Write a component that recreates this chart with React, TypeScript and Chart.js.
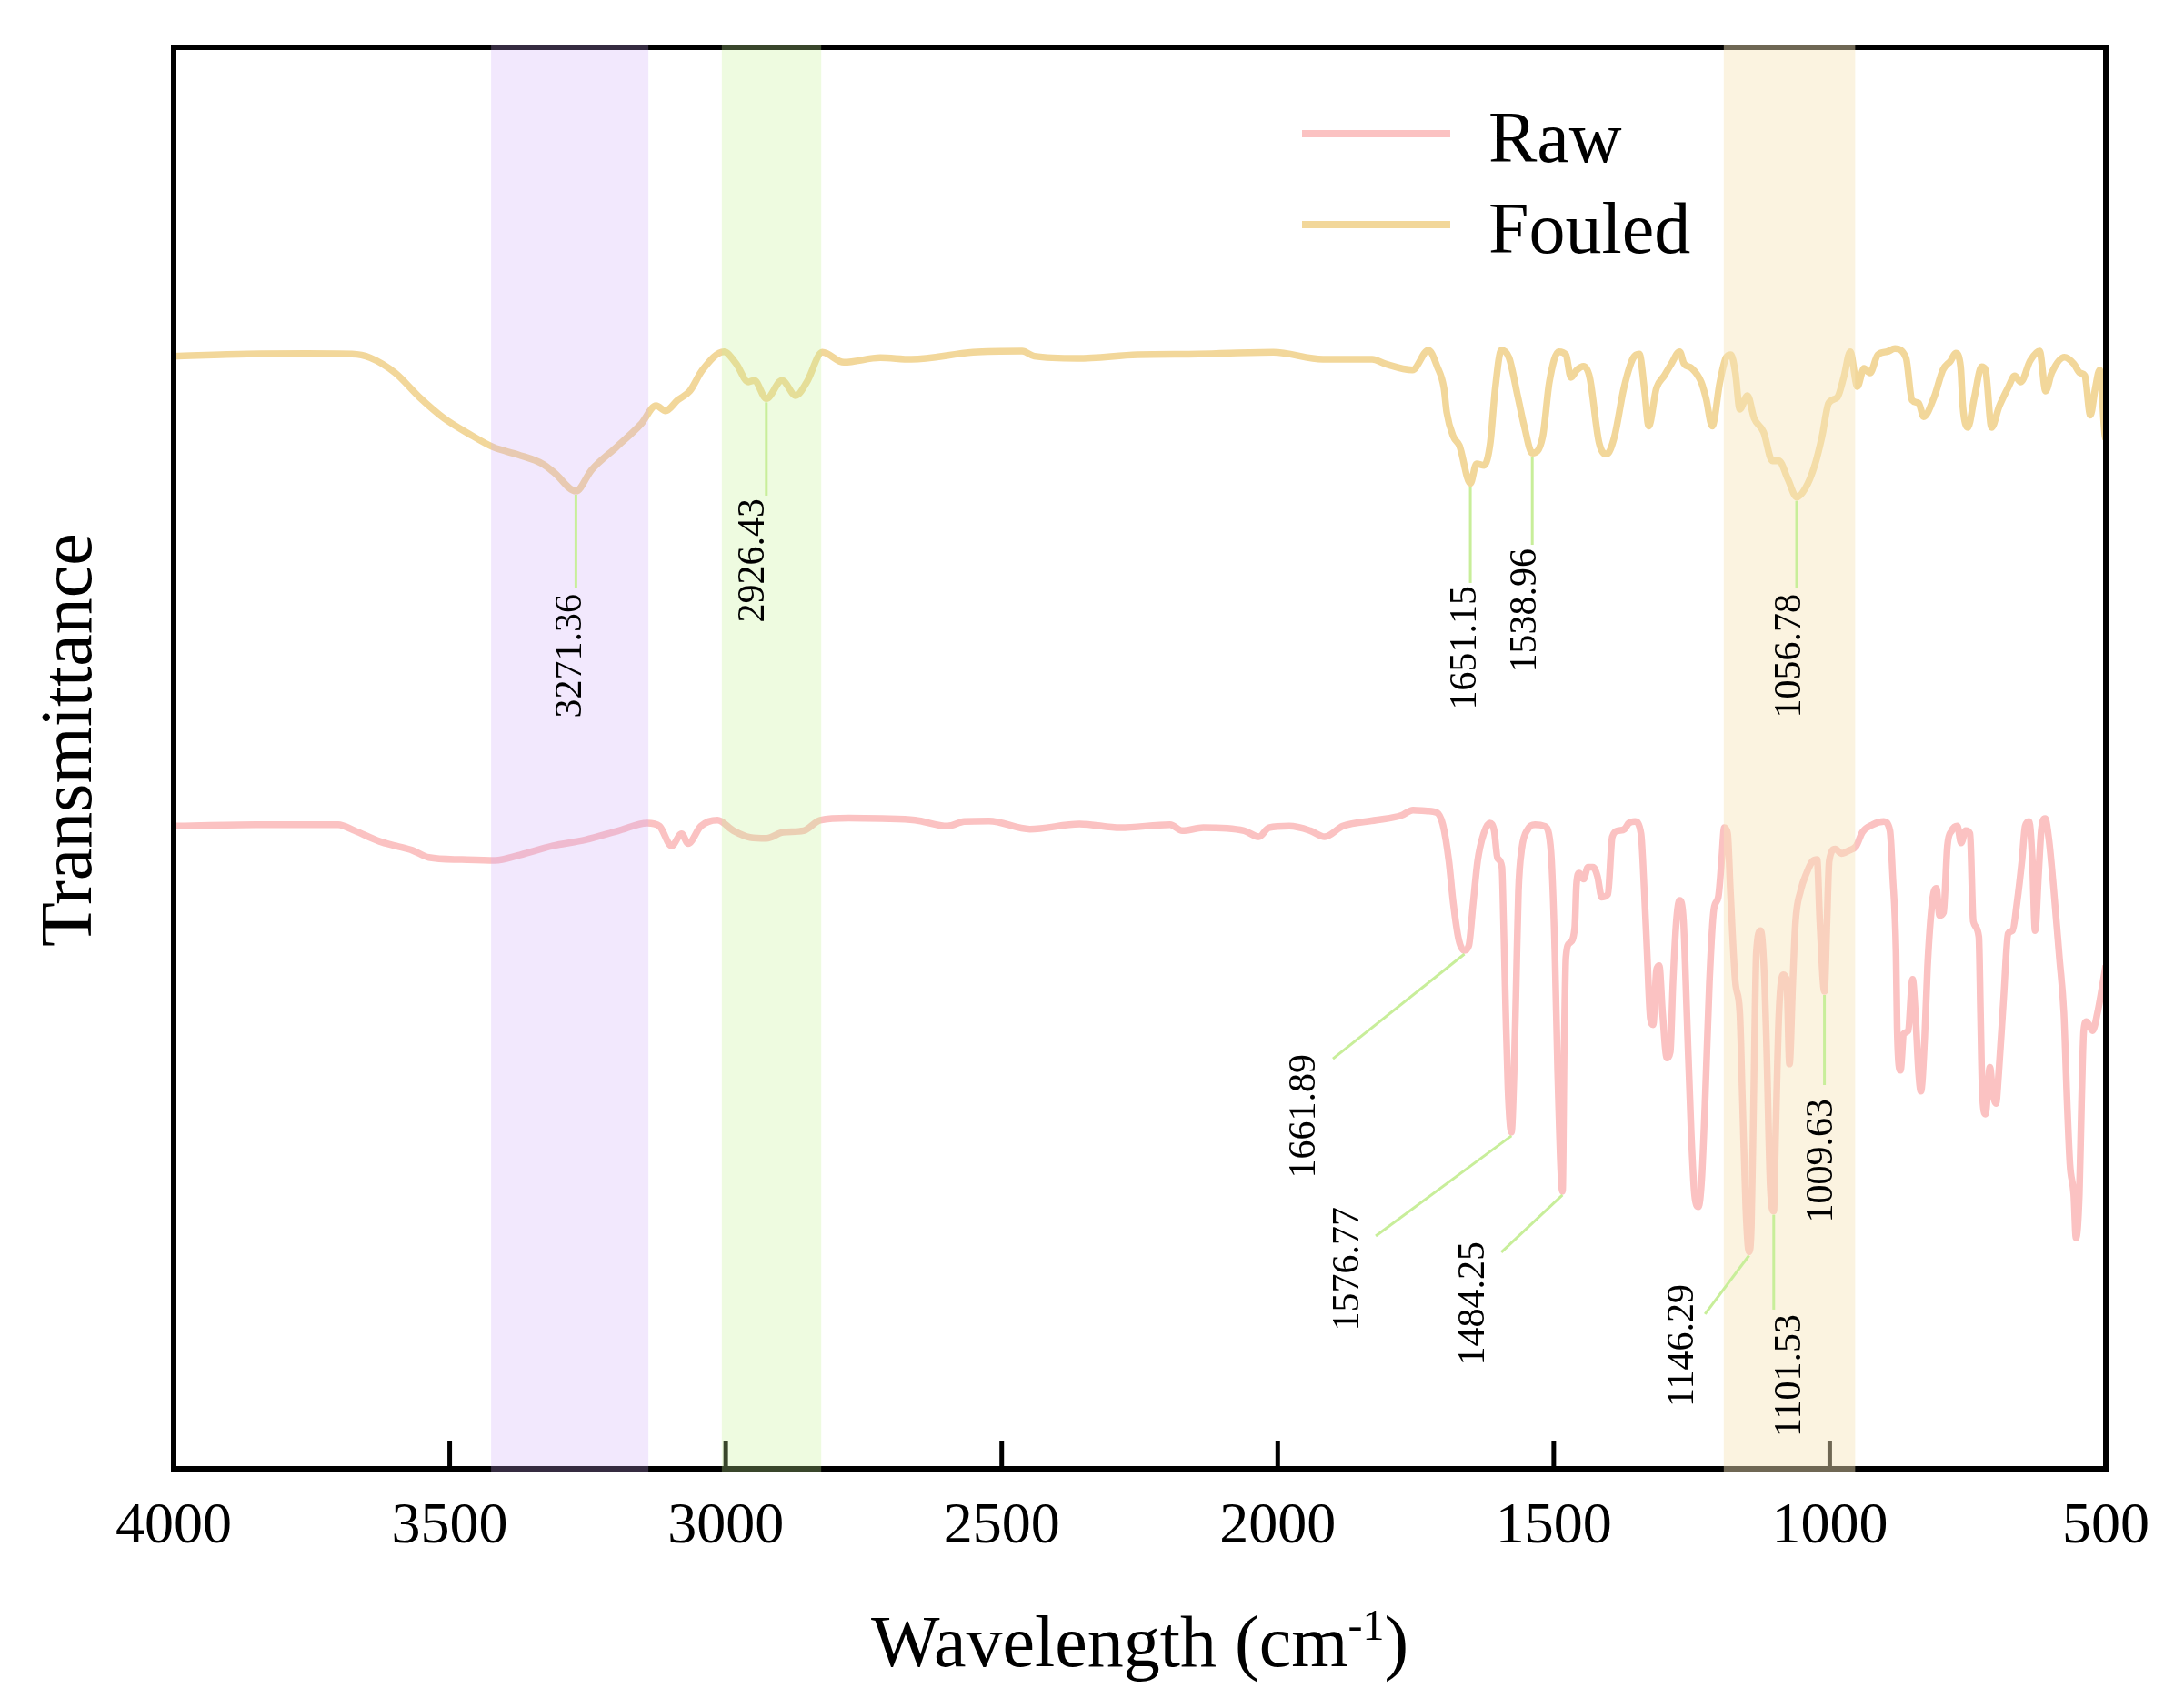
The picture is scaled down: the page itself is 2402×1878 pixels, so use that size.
import { useEffect, useRef } from "react";
import { Chart, registerables } from "chart.js";

Chart.register(...registerables);

// wavenumbers (cm-1) and transmittance (arbitrary units, curves offset)
const fouledX = [
  4000, 3866, 3760, 3677, 3644, 3599, 3555, 3510, 3466, 3421, 3376, 3332, 3310, 3271.36, 3243, 3198, 3154, 3126, 3109,
  3087, 3065, 3042, 3003, 2981, 2959, 2948, 2926.43, 2898, 2873, 2853, 2825, 2786, 2720, 2664, 2552, 2463, 2441, 2363,
  2254, 2143, 2008, 1918, 1829, 1806, 1756, 1727, 1711, 1699, 1694, 1682, 1671, 1651.15, 1640, 1626, 1615, 1606, 1595,
  1581, 1565, 1553, 1538.96, 1520, 1508, 1491, 1478, 1469, 1458, 1446, 1435, 1418, 1404, 1390, 1373, 1356, 1345, 1336,
  1328, 1314, 1300, 1287, 1272, 1264, 1250, 1233, 1224, 1213, 1199, 1188, 1179, 1171, 1163, 1149, 1137, 1120, 1104,
  1092, 1076, 1060, 1044, 1028, 1014, 1002, 986, 974, 963, 950, 938, 927, 913, 896, 882, 862, 851, 839, 830, 811, 795,
  781, 772, 763, 759, 750, 738, 725, 718, 707, 693, 676, 665, 654, 637, 620, 609, 598, 575, 558, 547, 538, 528, 519,
  511, 502, 500,
];
const fouledY = [
  78.27, 78.42, 78.45, 78.42, 78.16, 77.1, 75.39, 73.9, 72.83, 71.87, 71.34, 70.7, 70.06, 68.78, 70.27, 71.87, 73.47,
  74.79, 74.43, 75.18, 75.82, 77.31, 78.59, 77.74, 76.46, 76.57, 75.28, 76.57, 75.5, 76.46, 78.55, 77.84, 78.16, 78.05,
  78.55, 78.63, 78.27, 78.12, 78.37, 78.42, 78.55, 78.06, 78.06, 77.74, 77.31, 78.7, 77.52, 76.03, 74.33, 72.62, 71.98,
  69.32, 70.7, 70.59, 72.19, 76.03, 78.7, 78.16, 75.39, 73.26, 71.45, 72.62, 76.46, 78.59, 78.37, 76.78, 77.31, 77.56,
  76.78, 72.19, 71.38, 72.62, 76.03, 78.16, 78.42, 76.03, 73.36, 76.03, 76.89, 77.74, 78.59, 77.74, 77.42, 76.46,
  75.28, 73.36, 76.46, 78.16, 78.37, 77.1, 74.54, 75.5, 73.9, 72.94, 70.91, 70.91, 69.63, 68.35, 68.99, 70.49, 72.62,
  74.97, 75.39, 76.89, 78.59, 76.14, 77.42, 77.1, 78.37, 78.59, 78.8, 78.16, 75.18, 74.97, 74.01, 75.39, 77.31, 77.95,
  78.48, 77.52, 74.75, 73.26, 75.39, 77.52, 77.31, 73.26, 74.75, 76.14, 76.89, 76.46, 77.95, 78.63, 75.82, 77.1, 78.2,
  77.74, 77.1, 76.89, 74.12, 76.03, 77.31, 72.83, 72.4,
];

const rawX = [
  4000, 3851, 3702, 3672, 3627, 3597, 3567, 3538, 3478, 3418, 3373, 3314, 3254, 3194, 3142, 3120, 3098, 3080, 3068,
  3045, 3015, 2986, 2956, 2926, 2896, 2859, 2829, 2777, 2717, 2657, 2598, 2568, 2523, 2449, 2359, 2285, 2195, 2173,
  2135, 2061, 2034, 2016, 1979, 1941, 1915, 1882, 1822, 1777, 1755, 1729, 1712, 1701, 1690, 1682, 1672, 1661.89, 1654,
  1646, 1638, 1627, 1616, 1608, 1602, 1594, 1591, 1587, 1583, 1576.77, 1572, 1568, 1564, 1558, 1547, 1534, 1517, 1509,
  1504, 1498, 1493, 1484.25, 1481, 1478, 1471, 1462, 1459, 1454, 1446, 1438, 1429, 1421, 1413, 1402, 1394, 1383, 1372,
  1364, 1353, 1342, 1336, 1331, 1325, 1320, 1314, 1309, 1303, 1295, 1289, 1284, 1278, 1272, 1265, 1259, 1251, 1245,
  1238, 1232, 1226, 1218, 1210, 1202, 1196, 1191, 1185, 1180, 1171, 1163, 1158, 1152, 1146.29, 1142, 1138, 1133, 1125,
  1118, 1114, 1108, 1101.53, 1098, 1092, 1084, 1078, 1073, 1067, 1062, 1053, 1042, 1031, 1023, 1018, 1009.63, 1005,
  1001, 990, 979, 965, 952, 941, 922, 902, 891, 886, 880, 878, 872, 866, 858, 850, 845, 839, 835, 828, 823, 814, 807,
  801, 794, 787, 779, 769, 762, 754, 746, 740, 730, 727, 724, 718, 710, 705, 699, 694, 685, 677, 669, 661, 652, 646,
  639, 633, 628, 622, 617, 610, 603, 595, 584, 576, 570, 565, 558, 554, 548, 544, 540, 535, 524, 515, 507, 500,
];
const rawY = [
  45.21, 45.32, 45.32, 44.89, 44.14, 43.82, 43.5, 43.01, 42.86, 42.8, 43.18, 43.82, 44.25, 44.89, 45.42, 45.21, 43.82,
  44.67, 43.99, 45.21, 45.63, 44.89, 44.42, 44.35, 44.78, 44.89, 45.63, 45.78, 45.74, 45.63, 45.21, 45.53, 45.57, 45.0,
  45.36, 45.1, 45.32, 44.89, 45.1, 44.89, 44.46, 45.1, 45.21, 44.89, 44.46, 45.21, 45.63, 45.95, 46.34, 46.28, 46.17,
  45.32, 42.76, 39.78, 37.2, 36.47, 36.79, 39.78, 42.76, 44.68, 45.42, 44.89, 42.97, 42.33, 38.5, 32.1, 26.77, 23.68,
  27.84, 34.23, 40.63, 43.61, 45.0, 45.32, 45.21, 44.68, 42.76, 36.36, 28.0, 19.52, 30.0, 36.0, 37.0, 38.07, 41.06,
  41.91, 41.49, 42.33, 42.33, 41.7, 40.21, 40.42, 44.46, 44.89, 45.0, 45.42, 45.53, 44.68, 40.63, 36.36, 31.67, 31.24,
  35.08, 35.4, 32.1, 28.9, 29.33, 34.23, 38.5, 39.99, 38.5, 32.1, 23.57, 19.3, 18.45, 20.37, 25.7, 34.23, 39.35, 40.21,
  42.76, 45.1, 44.68, 40.63, 34.23, 32.1, 25.7, 18.24, 15.26, 17.17, 25.7, 36.36, 37.86, 34.23, 29.0, 20.0, 18.13,
  23.57, 32.1, 34.76, 34.33, 28.48, 34.23, 38.5, 40.63, 41.91, 42.76, 42.87, 38.5, 33.59, 38.5, 42.76, 43.61, 43.29,
  43.5, 43.82, 44.78, 45.32, 45.53, 44.89, 41.7, 36.36, 31.03, 28.04, 30.6, 30.82, 34.44, 32.1, 27.84, 26.56, 30.39,
  35.29, 39.99, 40.84, 38.93, 39.14, 43.82, 44.89, 45.21, 44.03, 44.89, 44.68, 38.5, 37.43, 32.1, 26.77, 24.96, 28.25,
  26.56, 25.7, 27.84, 33.16, 37.65, 37.86, 39.78, 42.76, 45.21, 45.53, 42.76, 37.86, 41.7, 44.89, 45.74, 44.25, 41.06,
  35.94, 32.1, 25.7, 21.44, 19.3, 16.24, 19.3, 25.7, 30.82, 31.46, 30.82, 32.1, 33.8, 35.4,
];

const xTicks = [4000, 3500, 3000, 2500, 2000, 1500, 1000, 500];

// highlighted regions (cm-1)
const bandFrom = [3425, 3007, 1192];
const bandTo = [3140, 2827, 954];
const bandColors = ["rgba(203,168,248,0.26)", "rgba(196,241,148,0.29)", "rgba(246,228,186,0.45)"];

// peak labels: where the leader starts, where it ends, where the text sits (data units)
const peakLabels = ["3271.36", "2926.43", "1651.15", "1538.96", "1056.78", "1661.89", "1576.77", "1484.25", "1146.29", "1101.53", "1009.63"];
const peakSeries = ["fouled", "fouled", "fouled", "fouled", "fouled", "raw", "raw", "raw", "raw", "raw", "raw"];
const peakAt = [3271.36, 2926.43, 1651.15, 1538.96, 1060, 1661.89, 1576.77, 1484.25, 1146.29, 1101.53, 1009.63];
const leaderEndX = [3271.36, 2926.43, 1651.15, 1538.96, 1060, 1900, 1822.5, 1595, 1226, 1101.53, 1009.63];
const leaderEndY = [61.93, 68.46, 62.32, 65.0, 61.93, 28.85, 16.38, 15.23, 10.88, 11.2, 27.0];
const textX = [3280, 2949, 1660, 1551.5, 1072, 1951, 1872, 1645, 1265.8, 1071.5, 1013.7];
const textTop = [61.55, 68.27, 62.12, 64.75, 61.55, 29.17, 18.43, 16.0, 12.99, 10.88, 26.04];

const RAW = "#fbc2c2";
const FOULED = "#f2d79a";
const LEADER = "#c8ee9a";
const SERIF = "'Liberation Serif', 'Times New Roman', serif";

function valueAt(xs: number[], ys: number[], v: number) {
  let best = 0;
  for (let i = 1; i < xs.length; i++) {
    if (Math.abs(xs[i] - v) < Math.abs(xs[best] - v)) best = i;
  }
  return ys[best];
}

const overlayPlugin = {
  id: "overlay",
  afterDraw(chart: any) {
    const { ctx, chartArea: a } = chart;
    const xs = chart.scales.x;
    const ys = chart.scales.y;
    ctx.save();

    // frame
    ctx.strokeStyle = "#000";
    ctx.lineWidth = 6;
    ctx.strokeRect(a.left, a.top, a.right - a.left, a.bottom - a.top);

    // inward tick marks
    ctx.lineWidth = 5;
    xTicks.slice(1, -1).forEach((t) => {
      const px = xs.getPixelForValue(t);
      ctx.beginPath();
      ctx.moveTo(px, a.bottom);
      ctx.lineTo(px, a.bottom - 31);
      ctx.stroke();
    });

    // shaded bands over everything drawn so far
    bandFrom.forEach((f, i) => {
      const x1 = xs.getPixelForValue(f);
      const x2 = xs.getPixelForValue(bandTo[i]);
      ctx.fillStyle = bandColors[i];
      ctx.fillRect(x1, a.top - 3, x2 - x1, a.bottom - a.top + 6);
    });

    // peak leaders and labels
    ctx.font = `42px ${SERIF}`;
    ctx.fillStyle = "#000";
    peakLabels.forEach((label, i) => {
      const isRaw = peakSeries[i] === "raw";
      const py = isRaw ? valueAt(rawX, rawY, peakAt[i]) : valueAt(fouledX, fouledY, peakAt[i]);
      ctx.strokeStyle = LEADER;
      ctx.lineWidth = 3;
      ctx.beginPath();
      ctx.moveTo(xs.getPixelForValue(peakAt[i]), ys.getPixelForValue(py) + 4);
      ctx.lineTo(xs.getPixelForValue(leaderEndX[i]), ys.getPixelForValue(leaderEndY[i]));
      ctx.stroke();

      ctx.save();
      ctx.translate(xs.getPixelForValue(textX[i]), ys.getPixelForValue(textTop[i]));
      ctx.rotate(-Math.PI / 2);
      ctx.textAlign = "right";
      ctx.textBaseline = "middle";
      ctx.fillText(label, 0, 0);
      ctx.restore();
    });

    // legend
    const legendRows = [
      { label: "Raw", color: RAW },
      { label: "Fouled", color: FOULED },
    ];
    legendRows.forEach((row, i) => {
      const ly = 147 + i * 100;
      ctx.strokeStyle = row.color;
      ctx.lineWidth = 8;
      ctx.beginPath();
      ctx.moveTo(1432, ly);
      ctx.lineTo(1595, ly);
      ctx.stroke();
      ctx.font = `80px ${SERIF}`;
      ctx.fillStyle = "#000";
      ctx.textAlign = "left";
      ctx.textBaseline = "alphabetic";
      ctx.fillText(row.label, 1637, ly + 31);
    });

    // axis titles
    ctx.fillStyle = "#000";
    ctx.textBaseline = "alphabetic";
    ctx.textAlign = "left";
    const main = "Wavelength (cm";
    const sup = "-1";
    const close = ")";
    ctx.font = `80px ${SERIF}`;
    const w1 = ctx.measureText(main).width;
    const w3 = ctx.measureText(close).width;
    ctx.font = `48px ${SERIF}`;
    const w2 = ctx.measureText(sup).width;
    const cx = (a.left + a.right) / 2;
    const base = a.bottom + 217;
    const start = cx - (w1 + w2 + w3) / 2;
    ctx.font = `80px ${SERIF}`;
    ctx.fillText(main, start, base);
    ctx.fillText(close, start + w1 + w2, base);
    ctx.font = `48px ${SERIF}`;
    ctx.fillText(sup, start + w1, base - 29);

    ctx.save();
    ctx.translate(a.left - 91, (a.top + a.bottom) / 2 - 20);
    ctx.rotate(-Math.PI / 2);
    ctx.font = `80px ${SERIF}`;
    ctx.textAlign = "center";
    ctx.fillText("Transmittance", 0, 0);
    ctx.restore();

    ctx.restore();
  },
};

function SpectraChart() {
  const canvasRef = useRef<HTMLCanvasElement>(null);
  const chartInstance = useRef<Chart | null>(null);

  useEffect(() => {
    if (!canvasRef.current) return;
    document.body.style.margin = "0";

    if (chartInstance.current) {
      chartInstance.current.destroy();
    }

    chartInstance.current = new Chart(canvasRef.current, {
      type: "line",
      data: {
        datasets: [
          {
            label: "Raw",
            data: rawX.map((x, i) => ({ x, y: rawY[i] })),
            borderColor: RAW,
            backgroundColor: RAW,
            borderWidth: 7.5,
            pointRadius: 0,
            cubicInterpolationMode: "monotone",
            fill: false,
          },
          {
            label: "Fouled",
            data: fouledX.map((x, i) => ({ x, y: fouledY[i] })),
            borderColor: FOULED,
            backgroundColor: FOULED,
            borderWidth: 7.5,
            pointRadius: 0,
            cubicInterpolationMode: "monotone",
            fill: false,
          },
        ],
      },
      options: {
        animation: false,
        responsive: false,
        devicePixelRatio: 1,
        layout: { padding: { top: 52, right: 86, left: 0, bottom: 0 } },
        plugins: {
          legend: { display: false },
          tooltip: { enabled: false },
        },
        scales: {
          x: {
            type: "linear",
            reverse: true,
            min: 500,
            max: 4000,
            afterBuildTicks: (scale: any) => {
              scale.ticks = xTicks.map((v) => ({ value: v }));
            },
            afterFit: (scale: any) => {
              scale.height = 263;
            },
            grid: { display: false, drawTicks: false },
            border: { display: false },
            ticks: {
              autoSkip: false,
              maxRotation: 0,
              padding: 26,
              color: "#000",
              font: { family: SERIF, size: 64 },
              callback: (v: any) => String(v),
            },
          },
          y: {
            min: 0,
            max: 100,
            afterFit: (scale: any) => {
              scale.width = 191;
            },
            grid: { display: false, drawTicks: false },
            border: { display: false },
            ticks: { display: false },
          },
        },
      },
      plugins: [overlayPlugin],
    });

    return () => {
      if (chartInstance.current) {
        chartInstance.current.destroy();
        chartInstance.current = null;
      }
    };
  }, []);

  return <canvas ref={canvasRef} width={2402} height={1878} style={{ display: "block" }} />;
}

export default function App() {
  return <SpectraChart />;
}
